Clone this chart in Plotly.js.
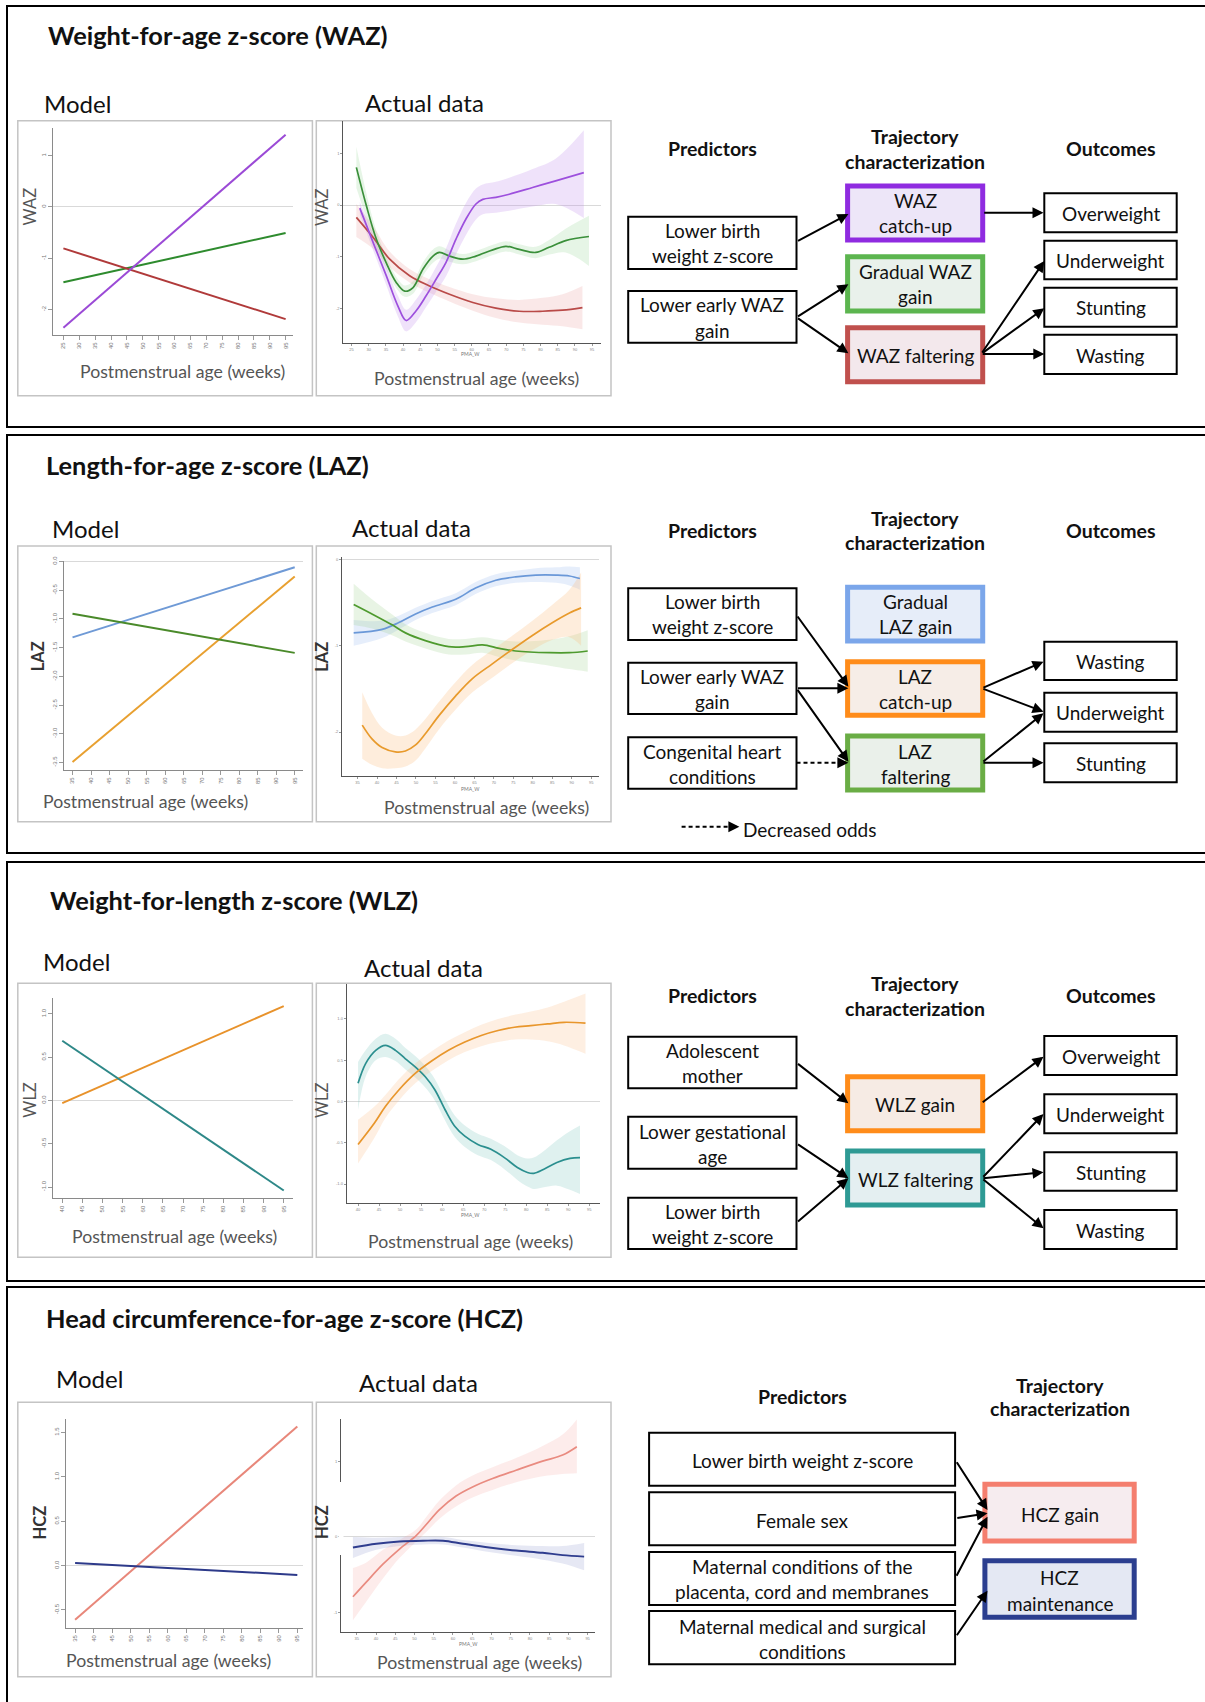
<!DOCTYPE html>
<html><head><meta charset="utf-8">
<script src="https://cdn.plot.ly/plotly-3.0.1.min.js"></script>
<style>html,body{margin:0;padding:0;background:#fff}#chart{width:1205px;height:1702px}</style>
</head><body><div id="chart"></div>
<script>
// ---------------- DATA ----------------
// Model (linear) trajectories
const wazModelWeeks = [25, 95];
const wazModelCatchUp = [-2.36, 1.41];
const wazModelGradual = [-1.47, -0.51];
const wazModelFaltering = [-0.81, -2.19];
const lazModelWeeks = [35, 95];
const lazModelGradual = [-1.32, -0.10];
const lazModelCatchUp = [-3.49, -0.26];
const lazModelFaltering = [-0.91, -1.59];
const wlzModelWeeks = [40, 95];
const wlzModelGain = [-0.03, 1.09];
const wlzModelFaltering = [0.69, -1.04];
const hczModelWeeks = [35, 95];
const hczModelGain = [-0.61, 1.57];
const hczModelMaintenance = [0.03, -0.105];

// Actual data (smoothed curves with confidence bands)
const wazActCatchUpWeeks = [27.4, 31.3, 35.1, 38.5, 40.9, 43.8, 46.7, 49.6, 52.5, 55.4, 58.3, 61.2, 63.2, 67.0, 70.9, 77.7, 84.4, 92.6];
const wazActCatchUp = [-0.06, -0.73, -1.37, -1.96, -2.24, -2.05, -1.76, -1.44, -1.11, -0.66, -0.27, 0.02, 0.11, 0.15, 0.21, 0.34, 0.47, 0.63];
const wazActCatchUpLo = [-0.18, -0.88, -1.55, -2.16, -2.45, -2.27, -1.98, -1.68, -1.38, -0.96, -0.58, -0.28, -0.18, -0.15, -0.11, -0.03, 0.02, -0.25];
const wazActCatchUpHi = [0.06, -0.58, -1.19, -1.76, -2.03, -1.83, -1.54, -1.20, -0.84, -0.36, 0.04, 0.32, 0.40, 0.45, 0.53, 0.70, 0.90, 1.45];
const wazActGradualWeeks = [26.4, 29.3, 32.2, 35.1, 38.0, 40.5, 42.9, 45.8, 48.7, 50.6, 53.5, 57.4, 61.2, 66.1, 69.9, 73.8, 78.6, 82.5, 87.3, 94.1];
const wazActGradual = [0.73, -0.01, -0.66, -1.12, -1.50, -1.67, -1.60, -1.24, -0.99, -0.92, -0.99, -1.05, -0.99, -0.87, -0.80, -0.86, -0.92, -0.82, -0.69, -0.61];
const wazActGradualLo = [0.33, -0.25, -0.82, -1.24, -1.61, -1.78, -1.72, -1.37, -1.12, -1.04, -1.10, -1.15, -1.09, -0.97, -0.90, -0.96, -1.03, -0.96, -0.92, -1.18];
const wazActGradualHi = [1.13, 0.23, -0.50, -1.00, -1.39, -1.56, -1.48, -1.11, -0.86, -0.80, -0.88, -0.95, -0.89, -0.77, -0.70, -0.76, -0.81, -0.68, -0.46, -0.21];
const wazActFalteringWeeks = [26.4, 31.3, 36.1, 41.9, 47.7, 53.5, 60.3, 67.0, 73.8, 80.6, 86.4, 92.2];
const wazActFaltering = [-0.24, -0.63, -1.05, -1.37, -1.57, -1.73, -1.89, -2.00, -2.06, -2.06, -2.04, -1.99];
const wazActFalteringLo = [-0.62, -0.85, -1.20, -1.50, -1.70, -1.87, -2.05, -2.19, -2.28, -2.32, -2.35, -2.41];
const wazActFalteringHi = [0.02, -0.41, -0.90, -1.24, -1.44, -1.59, -1.73, -1.81, -1.84, -1.80, -1.73, -1.57];

const lazActGradualWeeks = [34.0, 41.3, 45.6, 49.9, 54.2, 60.2, 65.3, 70.5, 75.6, 80.8, 86.0, 89.4, 92.1];
const lazActGradual = [-0.85, -0.81, -0.73, -0.63, -0.55, -0.46, -0.33, -0.24, -0.20, -0.18, -0.18, -0.19, -0.22];
const lazActGradualLo = [-1.00, -0.91, -0.81, -0.70, -0.62, -0.53, -0.40, -0.31, -0.27, -0.26, -0.27, -0.30, -0.35];
const lazActGradualHi = [-0.70, -0.71, -0.65, -0.56, -0.48, -0.39, -0.26, -0.17, -0.13, -0.10, -0.09, -0.08, -0.09];
const lazActFalteringWeeks = [34.0, 38.7, 44.0, 47.3, 52.4, 58.4, 62.7, 67.1, 71.4, 75.6, 84.3, 89.4, 94.1];
const lazActFaltering = [-0.52, -0.63, -0.76, -0.85, -0.94, -1.01, -1.01, -0.99, -1.03, -1.06, -1.08, -1.08, -1.06];
const lazActFalteringLo = [-0.76, -0.80, -0.88, -0.95, -1.03, -1.10, -1.10, -1.08, -1.13, -1.17, -1.23, -1.27, -1.30];
const lazActFalteringHi = [-0.28, -0.46, -0.64, -0.75, -0.85, -0.92, -0.92, -0.90, -0.93, -0.95, -0.93, -0.89, -0.82];
const lazActCatchUpWeeks = [36.2, 38.7, 41.3, 44.7, 47.3, 49.9, 52.4, 55.9, 60.2, 64.5, 69.6, 74.8, 79.9, 85.1, 89.4, 92.4];
const lazActCatchUp = [-1.92, -2.08, -2.18, -2.23, -2.22, -2.15, -2.02, -1.81, -1.58, -1.38, -1.21, -1.04, -0.88, -0.73, -0.62, -0.56];
const lazActCatchUpLo = [-2.31, -2.38, -2.42, -2.42, -2.40, -2.33, -2.19, -1.97, -1.74, -1.54, -1.37, -1.20, -1.05, -0.93, -0.90, -1.00];
const lazActCatchUpHi = [-1.54, -1.78, -1.95, -2.04, -2.04, -1.97, -1.85, -1.65, -1.42, -1.22, -1.05, -0.88, -0.71, -0.52, -0.35, -0.15];

const wlzActFalteringWeeks = [40.0, 41.8, 44.2, 46.5, 48.9, 51.2, 53.6, 56.0, 58.3, 60.7, 63.0, 65.4, 68.5, 71.6, 74.8, 77.9, 80.3, 81.8, 84.2, 87.3, 90.4, 92.8];
const wlzActFaltering = [0.22, 0.46, 0.62, 0.68, 0.62, 0.52, 0.42, 0.30, 0.14, -0.10, -0.30, -0.42, -0.52, -0.58, -0.68, -0.80, -0.86, -0.87, -0.82, -0.74, -0.69, -0.68];
const wlzActFalteringLo = [-0.10, 0.30, 0.50, 0.54, 0.49, 0.39, 0.29, 0.17, 0.01, -0.23, -0.43, -0.55, -0.65, -0.71, -0.82, -0.95, -1.03, -1.06, -1.04, -1.02, -1.07, -1.12];
const wlzActFalteringHi = [0.48, 0.62, 0.76, 0.82, 0.76, 0.65, 0.55, 0.43, 0.27, 0.03, -0.17, -0.29, -0.39, -0.45, -0.54, -0.65, -0.69, -0.68, -0.60, -0.47, -0.36, -0.29];
const wlzActGainWeeks = [40.0, 43.9, 46.5, 49.7, 53.6, 57.5, 61.5, 65.4, 69.3, 73.3, 77.2, 81.1, 85.1, 89.0, 94.1];
const wlzActGain = [-0.52, -0.26, -0.06, 0.14, 0.34, 0.49, 0.62, 0.72, 0.80, 0.86, 0.90, 0.92, 0.94, 0.96, 0.95];
const wlzActGainLo = [-0.75, -0.44, -0.20, 0.01, 0.22, 0.37, 0.50, 0.60, 0.67, 0.72, 0.75, 0.75, 0.73, 0.68, 0.58];
const wlzActGainHi = [-0.22, -0.06, 0.08, 0.27, 0.46, 0.61, 0.74, 0.84, 0.93, 1.00, 1.05, 1.09, 1.14, 1.21, 1.31];

const hczActGainWeeks = [34.0, 37.4, 41.8, 46.1, 50.5, 53.0, 56.5, 60.8, 65.1, 70.3, 76.4, 83.3, 88.5, 92.2];
const hczActGain = [-0.79, -0.60, -0.36, -0.16, 0.02, 0.16, 0.36, 0.54, 0.66, 0.77, 0.88, 1.00, 1.08, 1.19];
const hczActGainLo = [-1.10, -0.86, -0.55, -0.28, -0.06, 0.06, 0.24, 0.40, 0.52, 0.62, 0.72, 0.80, 0.83, 0.84];
const hczActGainHi = [-0.41, -0.34, -0.17, -0.04, 0.10, 0.26, 0.48, 0.68, 0.81, 0.92, 1.04, 1.20, 1.35, 1.55];
const hczActMaintWeeks = [34.0, 40.1, 46.1, 52.2, 57.4, 62.6, 69.4, 76.4, 83.3, 88.5, 94.1];
const hczActMaint = [-0.14, -0.09, -0.06, -0.05, -0.05, -0.09, -0.14, -0.18, -0.21, -0.24, -0.26];
const hczActMaintLo = [-0.28, -0.17, -0.12, -0.10, -0.10, -0.14, -0.20, -0.25, -0.30, -0.35, -0.44];
const hczActMaintHi = [0.00, -0.01, 0.00, 0.00, 0.00, -0.04, -0.08, -0.11, -0.12, -0.12, -0.08];

// Tick labels
const weekTicks25 = [25, 30, 35, 40, 45, 50, 55, 60, 65, 70, 75, 80, 85, 90, 95];
const weekTicks35 = [35, 40, 45, 50, 55, 60, 65, 70, 75, 80, 85, 90, 95];
const weekTicks40 = [40, 45, 50, 55, 60, 65, 70, 75, 80, 85, 90, 95];
const wazModelYTicks = [-2, -1, 0, 1];
const wazModelYText = ['-2', '-1', '0', '1'];
const lazModelYTicks = [-3.5, -3, -2.5, -2, -1.5, -1, -0.5, 0];
const lazModelYText = ['-3.5', '-3.0', '-2.5', '-2.0', '-1.5', '-1.0', '-0.5', '0.0'];
const wlzModelYTicks = [-1, -0.5, 0, 0.5, 1];
const wlzModelYText = ['-1.0', '-0.5', '0.0', '0.5', '1.0'];
const hczModelYTicks = [-0.5, 0, 0.5, 1, 1.5];
const hczModelYText = ['-0.5', '0.0', '0.5', '1.0', '1.5'];
const wazActYTicks = [-2, -1, 0, 1];
const lazActYTicks = [-2, -1, 0];
const wlzActYTicks = [-1, -0.5, 0, 0.5, 1];
const wlzActYText = ['-1.0', '-0.5', '0.0', '0.5', '1.0'];
const hczActYTicks = [-1, 0, 1];

// ---------------- LAYOUT HELPERS ----------------
const FONT = 'Lato, "Open Sans", sans-serif';
const W = 1205, H = 1702;
const px = x => x / W, py = y => 1 - y / H;
const traces = [];
const layout = {
  width: W, height: H, margin: {l: 0, r: 0, t: 0, b: 0},
  paper_bgcolor: '#ffffff', plot_bgcolor: 'rgba(0,0,0,0)', showlegend: false,
  font: {family: FONT}, shapes: [], annotations: []
};
const sfx = i => (i === 1 ? '' : String(i));

function addAxes(i, box, xr, yr, xt, yt, ytext, model) {
  const s = sfx(i);
  layout['xaxis' + s] = {
    domain: [px(box[0]), px(box[2])], range: xr, anchor: 'y' + s,
    showgrid: false, zeroline: false, showline: true,
    linecolor: model ? '#8a8a8a' : '#555', linewidth: 1,
    ticks: 'outside', ticklen: model ? 4 : 2, tickcolor: '#999',
    tickmode: 'array', tickvals: xt, ticktext: xt.map(String),
    tickangle: model ? -90 : 0,
    tickfont: {size: model ? 6 : 4, color: model ? '#777' : '#888', family: 'Liberation Sans'}
  };
  layout['yaxis' + s] = {
    domain: [py(box[3]), py(box[1])], range: yr, anchor: 'x' + s,
    showgrid: false, zeroline: true, zerolinecolor: '#d9d9d9', zerolinewidth: 1,
    showline: true, linecolor: model ? '#8a8a8a' : '#555', linewidth: 1,
    ticks: 'outside', ticklen: model ? 4 : 2, tickcolor: '#999',
    tickmode: 'array', tickvals: yt, ticktext: ytext || yt.map(String),
    tickangle: model ? -90 : 0,
    tickfont: {size: model ? 6 : 4, color: model ? '#777' : '#888', family: 'Liberation Sans'}
  };
}
function line(i, x, y, color, w, smooth) {
  const s = sfx(i);
  traces.push({x, y, xaxis: 'x' + s, yaxis: 'y' + s, mode: 'lines', hoverinfo: 'skip',
    line: {color, width: w, shape: smooth ? 'spline' : 'linear'}});
}
function band(i, x, lo, hi, fill) {
  const s = sfx(i);
  traces.push({x, y: lo, xaxis: 'x' + s, yaxis: 'y' + s, mode: 'lines', hoverinfo: 'skip',
    line: {width: 0, shape: 'spline', color: 'rgba(0,0,0,0)'}});
  traces.push({x, y: hi, xaxis: 'x' + s, yaxis: 'y' + s, mode: 'lines', hoverinfo: 'skip',
    line: {width: 0, shape: 'spline', color: 'rgba(0,0,0,0)'}, fill: 'tonexty', fillcolor: fill});
}
function txt(x, y, t, o = {}) {
  layout.annotations.push({xref: 'paper', yref: 'paper', x: px(x), y: py(y),
    text: o.bold ? '<b>' + t + '</b>' : t, showarrow: false,
    xanchor: o.xa || 'center', yanchor: 'middle', textangle: o.angle || 0,
    font: {family: FONT, size: o.size || 19, color: o.color || '#111'}});
}
function rect(x0, y0, x1, y1, color, w, fill, layer) {
  layout.shapes.push({type: 'rect', xref: 'paper', yref: 'paper',
    x0: px(x0), x1: px(x1), y0: py(y1), y1: py(y0),
    line: {color, width: w}, fillcolor: fill || 'rgba(0,0,0,0)', layer: layer || 'above'});
}
function arrow(x0, y0, x1, y1) {
  layout.annotations.push({xref: 'paper', yref: 'paper', x: px(x1), y: py(y1),
    ax: x0 - x1, ay: y0 - y1, axref: 'pixel', ayref: 'pixel', text: '',
    showarrow: true, arrowhead: 2, arrowsize: 1.1, arrowwidth: 2, arrowcolor: '#000', standoff: 0});
}
function dashedArrow(x0, y0, x1, y1) {
  layout.shapes.push({type: 'line', xref: 'paper', yref: 'paper',
    x0: px(x0), y0: py(y0), x1: px(x1 - 10), y1: py(y1),
    line: {color: '#000', width: 2, dash: '4px,3px'}});
  arrow(x1 - 12, y1, x1, y1);
}
function box(x0, y0, x1, y1, lines, yc, o = {}) {
  rect(x0, y0, x1, y1, o.color || '#000', o.w || 2, o.fill || '#fff');
  lines.forEach((t, k) => txt((x0 + x1) / 2, yc[k], t, {size: o.size || 19}));
}

// ---------------- PANEL FRAMES ----------------
rect(7, 6, 1220, 427, '#000', 2, null, 'below');
rect(7, 435, 1220, 853, '#000', 2, null, 'below');
rect(7, 862, 1220, 1281, '#000', 2, null, 'below');
rect(7, 1287, 1220, 1720, '#000', 2, null, 'below');

const frameCol = '#c4c4c4';
[[120.7, 395.7], [546, 821.7], [983.3, 1257.3], [1402.3, 1676.7]].forEach(([a, b]) => {
  rect(17.8, a, 312.4, b, frameCol, 1.5, null, 'below');
  rect(316.3, a, 611, b, frameCol, 1.5, null, 'below');
});

// ---------------- SUBPLOTS ----------------
// WAZ
addAxes(1, [53.4, 128, 292.6, 335], [21.85, 97.2], [-2.5, 1.54], weekTicks25, wazModelYTicks, wazModelYText, true);
line(1, wazModelWeeks, wazModelGradual, '#2e8b2e', 2);
line(1, wazModelWeeks, wazModelFaltering, '#b03a3a', 2);
line(1, wazModelWeeks, wazModelCatchUp, '#9b4ad6', 2);

addAxes(2, [343.3, 121, 601, 342.7], [22.6, 97.6], [-2.67, 1.63], weekTicks25, wazActYTicks, null, false);
band(2, wazActFalteringWeeks, wazActFalteringLo, wazActFalteringHi, 'rgba(225,130,130,0.18)');
band(2, wazActGradualWeeks, wazActGradualLo, wazActGradualHi, 'rgba(130,205,130,0.2)');
band(2, wazActCatchUpWeeks, wazActCatchUpLo, wazActCatchUpHi, 'rgba(190,140,235,0.25)');
line(2, wazActFalteringWeeks, wazActFaltering, '#b94a48', 1.7, true);
line(2, wazActGradualWeeks, wazActGradual, '#3a8f3a', 1.7, true);
line(2, wazActCatchUpWeeks, wazActCatchUp, '#9d50dd', 1.7, true);

// LAZ
addAxes(3, [64, 561, 302.5, 770], [32.7, 97.1], [-3.63, 0.01], weekTicks35, lazModelYTicks, lazModelYText, true);
line(3, lazModelWeeks, lazModelGradual, '#6f9ad6', 2);
line(3, lazModelWeeks, lazModelCatchUp, '#e8a030', 2);
line(3, lazModelWeeks, lazModelFaltering, '#4a8a2a', 2);

addAxes(4, [342, 557, 599, 776], [31.0, 97.0], [-2.51, 0.03], weekTicks35, lazActYTicks, null, false);
band(4, lazActGradualWeeks, lazActGradualLo, lazActGradualHi, 'rgba(130,170,235,0.2)');
band(4, lazActFalteringWeeks, lazActFalteringLo, lazActFalteringHi, 'rgba(140,200,120,0.2)');
band(4, lazActCatchUpWeeks, lazActCatchUpLo, lazActCatchUpHi, 'rgba(250,190,130,0.28)');
line(4, lazActGradualWeeks, lazActGradual, '#6a98d8', 1.7, true);
line(4, lazActFalteringWeeks, lazActFaltering, '#4e9a2e', 1.7, true);
line(4, lazActCatchUpWeeks, lazActCatchUp, '#e89a2c', 1.7, true);

// WLZ
addAxes(5, [53.4, 998.3, 292.6, 1198.3], [37.8, 97.2], [-1.13, 1.18], weekTicks40, wlzModelYTicks, wlzModelYText, true);
line(5, wlzModelWeeks, wlzModelGain, '#e8922b', 2);
line(5, wlzModelWeeks, wlzModelFaltering, '#2e8888', 2);

addAxes(6, [346.7, 983.5, 600.2, 1203], [37.3, 97.6], [-1.23, 1.43], weekTicks40, wlzActYTicks, wlzActYText, false);
band(6, wlzActFalteringWeeks, wlzActFalteringLo, wlzActFalteringHi, 'rgba(110,190,180,0.22)');
band(6, wlzActGainWeeks, wlzActGainLo, wlzActGainHi, 'rgba(250,190,140,0.25)');
line(6, wlzActFalteringWeeks, wlzActFaltering, '#2b8f8f', 1.7, true);
line(6, wlzActGainWeeks, wlzActGain, '#e8962c', 1.7, true);

// HCZ
addAxes(7, [66.4, 1419.3, 302.5, 1627.7], [32.65, 96.4], [-0.70, 1.65], weekTicks35, hczModelYTicks, hczModelYText, true);
line(7, hczModelWeeks, hczModelGain, '#e8877a', 2);
line(7, hczModelWeeks, hczModelMaintenance, '#2d3a8a', 2);

addAxes(8, [341, 1418.7, 595.3, 1632], [30.9, 97.0], [-1.255, 1.56], weekTicks35, hczActYTicks, null, false);
band(8, hczActGainWeeks, hczActGainLo, hczActGainHi, 'rgba(245,170,165,0.22)');
band(8, hczActMaintWeeks, hczActMaintLo, hczActMaintHi, 'rgba(130,140,200,0.2)');
line(8, hczActGainWeeks, hczActGain, '#e98b80', 1.7, true);
line(8, hczActMaintWeeks, hczActMaint, '#2f3d8e', 1.9, true);
// gap in the HCZ actual-data y axis line, as in the source image
rect(338.5, 1482, 343.5, 1555, 'rgba(0,0,0,0)', 0, '#ffffff', 'above');

// ---------------- PLOT TEXT ----------------
const titleSize = 25.4, subSize = 24, axSize = 17.7;
txt(46, 35, 'Weight-for-age z-score (WAZ)', {bold: true, size: titleSize, xa: 'left'});
txt(44, 465, 'Length-for-age z-score (LAZ)', {bold: true, size: titleSize, xa: 'left'});
txt(48, 900, 'Weight-for-length z-score (WLZ)', {bold: true, size: titleSize, xa: 'left'});
txt(44, 1318, 'Head circumference-for-age z-score (HCZ)', {bold: true, size: titleSize, xa: 'left'});

txt(42, 104, 'Model', {size: subSize, xa: 'left'});
txt(363, 102, 'Actual data', {size: subSize, xa: 'left'});
txt(50, 528, 'Model', {size: subSize, xa: 'left'});
txt(350, 527, 'Actual data', {size: subSize, xa: 'left'});
txt(41, 962, 'Model', {size: subSize, xa: 'left'});
txt(362, 967, 'Actual data', {size: subSize, xa: 'left'});
txt(54, 1378, 'Model', {size: subSize, xa: 'left'});
txt(357, 1382, 'Actual data', {size: subSize, xa: 'left'});

txt(29.7, 206.7, 'WAZ', {size: 16.5, color: '#555', angle: -90});
txt(322, 207, 'WAZ', {size: 16.5, color: '#555', angle: -90});
txt(37.6, 656.7, 'LAZ', {size: 16.5, color: '#333', angle: -90, bold: true});
txt(322, 656.7, 'LAZ', {size: 16.5, color: '#333', angle: -90, bold: true});
txt(29.7, 1100, 'WLZ', {size: 16.5, color: '#555', angle: -90});
txt(322, 1100, 'WLZ', {size: 16.5, color: '#555', angle: -90});
txt(39.5, 1523, 'HCZ', {size: 16.5, color: '#333', angle: -90, bold: true});
txt(322, 1522, 'HCZ', {size: 16.5, color: '#333', angle: -90, bold: true});

const pma = 'Postmenstrual age (weeks)';
txt(182.5, 371.7, pma, {size: axSize, color: '#555'});
txt(476.9, 378.3, pma, {size: axSize, color: '#555'});
txt(145.7, 801.7, pma, {size: axSize, color: '#555'});
txt(486.4, 807.3, pma, {size: axSize, color: '#555'});
txt(174.6, 1236.7, pma, {size: axSize, color: '#555'});
txt(470, 1241.7, pma, {size: axSize, color: '#555'});
txt(168.4, 1660, pma, {size: axSize, color: '#555'});
txt(479.8, 1662.7, pma, {size: axSize, color: '#555'});

txt(470.5, 354, 'PMA_W', {size: 5, color: '#777'});
txt(470.5, 789, 'PMA_W', {size: 5, color: '#777'});
txt(470.5, 1215, 'PMA_W', {size: 5, color: '#777'});
txt(468.6, 1644, 'PMA_W', {size: 5, color: '#777'});

// ---------------- DIAGRAMS ----------------
const hdr = 19.5;
function headers(yP, yT1, yT2, withOut, xP, xT) {
  txt(xP || 712.4, yP, 'Predictors', {bold: true, size: hdr});
  txt(xT || 915, yT1, 'Trajectory', {bold: true, size: hdr});
  txt(xT || 915, yT2, 'characterization', {bold: true, size: hdr});
  if (withOut) txt(1110.5, yP, 'Outcomes', {bold: true, size: hdr});
}
const PX0 = 628.2, PX1 = 796.5, TX0 = 847.6, TX1 = 982.7, OX0 = 1044.3, OX1 = 1176.7;

// Panel 1
headers(149, 136.7, 161.7, true);
box(PX0, 216.7, PX1, 269, ['Lower birth', 'weight z-score'], [230.7, 255.7]);
box(PX0, 291, PX1, 342.7, ['Lower early WAZ', 'gain'], [304.3, 330]);
box(TX0, 186, TX1, 240, ['WAZ', 'catch-up'], [200.7, 225.7], {color: '#8f2be0', w: 5, fill: '#ede6f8'});
box(TX0, 256.7, TX1, 311, ['Gradual WAZ', 'gain'], [271.7, 296.7], {color: '#5cb54f', w: 5, fill: '#e9f1eb'});
box(TX0, 327.7, TX1, 381.7, ['WAZ faltering'], [355], {color: '#c0504d', w: 5, fill: '#f3e8ec'});
box(OX0, 193.3, OX1, 232.3, ['Overweight'], [213.3]);
box(OX0, 240.7, OX1, 279.3, ['Underweight'], [260.3]);
box(OX0, 287.7, OX1, 326.7, ['Stunting'], [307.7]);
box(OX0, 334.7, OX1, 374, ['Wasting'], [355]);
arrow(796.5, 241.7, 848.4, 214);
arrow(796.5, 317.3, 848.4, 284.3);
arrow(796.5, 317.3, 848.4, 353.3);
arrow(982.7, 212.7, 1043.5, 212.7);
arrow(981.2, 354, 1044.3, 261);
arrow(981.2, 354, 1044.3, 308.3);
arrow(981.2, 354, 1044.3, 354);

// Panel 2
headers(530, 518.3, 542.7, true);
box(PX0, 588.3, PX1, 640, ['Lower birth', 'weight z-score'], [601.7, 626.7]);
box(PX0, 662.7, PX1, 714, ['Lower early WAZ', 'gain'], [676.7, 701.7]);
box(PX0, 737.3, PX1, 788.7, ['Congenital heart', 'conditions'], [751.7, 776.7]);
box(TX0, 587.3, TX1, 641, ['Gradual', 'LAZ gain'], [601.7, 626.7], {color: '#7ba6ea', w: 5, fill: '#e6edf9'});
box(TX0, 661.7, TX1, 715.3, ['LAZ', 'catch-up'], [676.7, 701.7], {color: '#ff8c1a', w: 5, fill: '#f6ede7'});
box(TX0, 736, TX1, 790, ['LAZ', 'faltering'], [751.7, 776.7], {color: '#6aad45', w: 5, fill: '#eaf0ea'});
box(OX0, 641.7, OX1, 680, ['Wasting'], [661.7]);
box(OX0, 692.7, OX1, 731.7, ['Underweight'], [712.3]);
box(OX0, 743.3, OX1, 782.3, ['Stunting'], [763.3]);
arrow(796.5, 615, 848.4, 686.7);
arrow(796.5, 688.3, 848.4, 688.3);
arrow(796.5, 688.3, 848.4, 761.7);
dashedArrow(796.5, 762.7, 848.4, 762.7);
arrow(981.9, 688.3, 1043.5, 661.7);
arrow(981.9, 688.3, 1043.5, 711.7);
arrow(981.9, 762.7, 1043.5, 713.3);
arrow(981.9, 762.7, 1043.5, 762.7);
dashedArrow(681.6, 826.7, 739.4, 826.7);
txt(741.3, 829.3, 'Decreased odds', {size: 19, xa: 'left'});

// Panel 3
headers(995, 983.3, 1008.3, true);
box(PX0, 1036.7, PX1, 1088.3, ['Adolescent', 'mother'], [1050.7, 1075.7]);
box(PX0, 1116.7, PX1, 1168.7, ['Lower gestational', 'age'], [1131.7, 1156.7]);
box(PX0, 1197.7, PX1, 1249, ['Lower birth', 'weight z-score'], [1211.7, 1236]);
box(TX0, 1076.7, TX1, 1130.7, ['WLZ gain'], [1104.3], {color: '#ff8c1a', w: 5, fill: '#f6ebe4'});
box(TX0, 1151, TX1, 1205, ['WLZ faltering'], [1179.3], {color: '#2e9a94', w: 5, fill: '#e4eff1'});
box(OX0, 1036, OX1, 1075, ['Overweight'], [1056.7]);
box(OX0, 1094.3, OX1, 1133.3, ['Underweight'], [1114.3]);
box(OX0, 1152.3, OX1, 1190.7, ['Stunting'], [1172.7]);
box(OX0, 1210, OX1, 1249, ['Wasting'], [1230.7]);
arrow(796.5, 1062.7, 848.4, 1103.3);
arrow(796.5, 1143.3, 848.4, 1178.3);
arrow(796.5, 1222.7, 848.4, 1178.3);
arrow(981.2, 1103.3, 1043.5, 1056.7);
arrow(981.9, 1178.3, 1043.5, 1114);
arrow(981.9, 1178.3, 1043.5, 1172.3);
arrow(981.9, 1178.3, 1043.5, 1228.3);

// Panel 4
headers(1396.7, 1385, 1408.3, false, 802.1, 1059.6);
const QX0 = 649.1, QX1 = 955.1, RX0 = 984.9, RX1 = 1134.2;
box(QX0, 1432.7, QX1, 1485.7, ['Lower birth weight z-score'], [1460.7]);
box(QX0, 1492.3, QX1, 1545.3, ['Female sex'], [1520]);
box(QX0, 1552, QX1, 1605, ['Maternal conditions of the', 'placenta, cord and membranes'], [1566.7, 1591.7]);
box(QX0, 1611, QX1, 1664.3, ['Maternal medical and surgical', 'conditions'], [1626.7, 1651.7]);
box(RX0, 1484.3, RX1, 1541, ['HCZ gain'], [1514], {color: '#f47e6e', w: 5, fill: '#f6ecef'});
box(RX0, 1560.7, RX1, 1617.3, ['HCZ', 'maintenance'], [1577.7, 1603.3], {color: '#2b3e8f', w: 5, fill: '#e4e8f3'});
arrow(955.8, 1460.7, 987.5, 1510);
arrow(955.8, 1518.3, 987.5, 1513.3);
arrow(955.8, 1577.3, 987.5, 1516.7);
arrow(955.8, 1636.7, 987.5, 1590.7);

Plotly.newPlot('chart', traces, layout, {staticPlot: true, displayModeBar: false});
</script></body></html>
